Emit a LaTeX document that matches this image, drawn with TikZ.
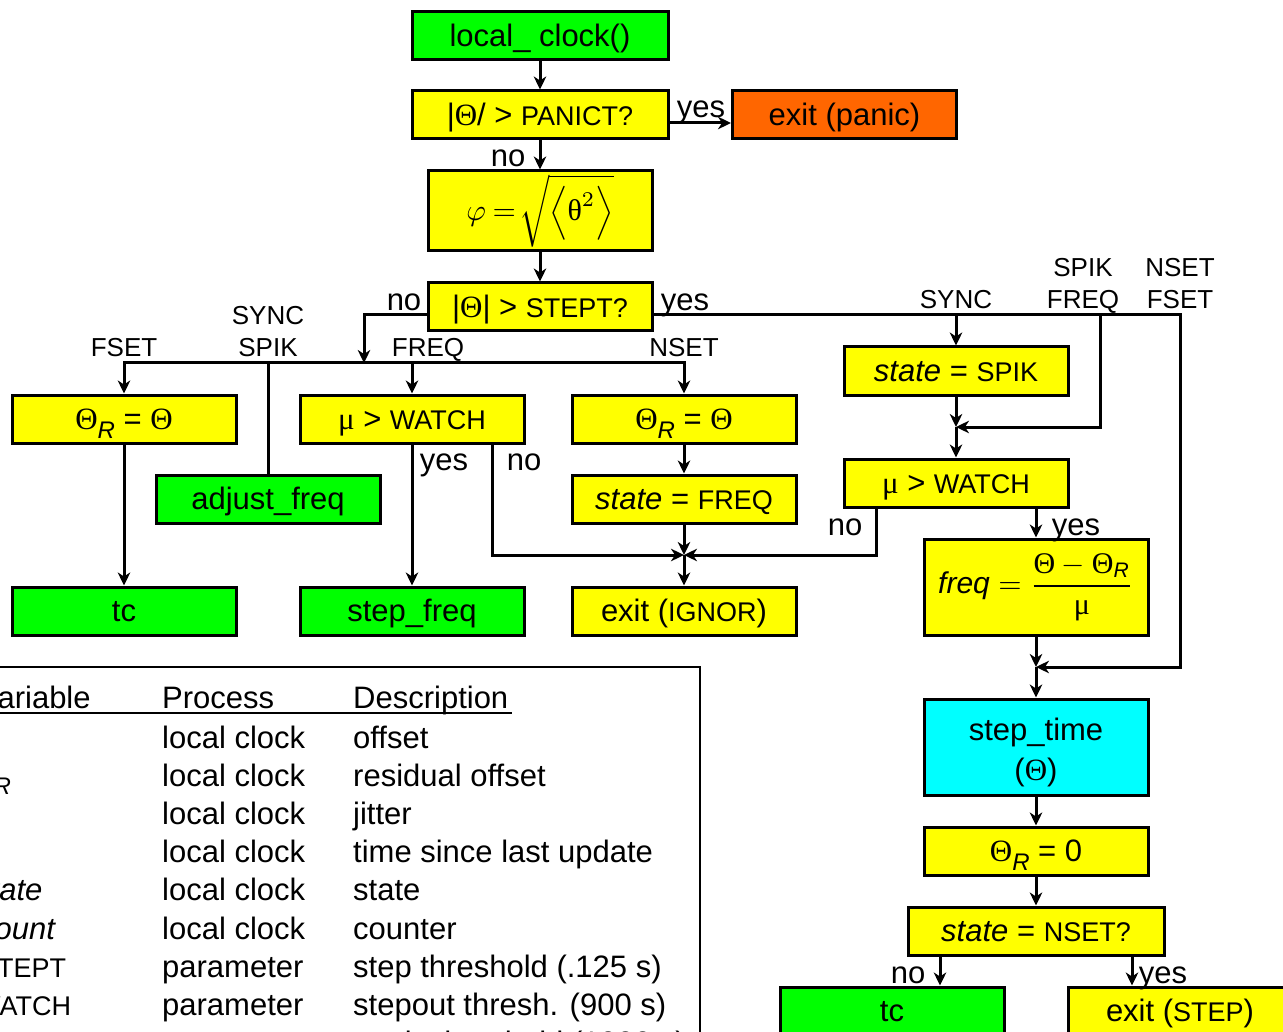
\documentclass[tikz,border=0pt]{standalone}
\usepackage{graphicx}
\usepackage{amsmath}
\usepackage{fontspec}
\setmainfont{Liberation Sans}
\newfontfamily\serifgr{Liberation Serif}
\usetikzlibrary{arrows.meta}
\definecolor{bgreen}{HTML}{00FF00}
\definecolor{byellow}{HTML}{FFFF00}
\definecolor{borange}{HTML}{FF6600}
\definecolor{bcyan}{HTML}{00FFFF}
\newcommand\fbig{\fontsize{31}{40}\selectfont}
\newcommand\fcap{\fontsize{27}{32}\selectfont}
\newcommand\flab{\fontsize{26}{32}\selectfont}
\newcommand\Thg{{\serifgr Θ}}
\newcommand\mug{{\serifgr μ}}
\newcommand\ThR{{\serifgr Θ}\raisebox{-0.28em}{\fontsize{24}{24}\selectfont\itshape R}}
\tikzset{
  boxbase/.style={draw, line width=3pt, minimum width=224pt, minimum height=48pt, inner sep=0pt, font=\fbig},
  box/.style={boxbase, text height=28pt, text depth=6.6pt},
  ln/.style={line width=3pt},
  arr/.style={line width=3pt, -{Stealth[length=13pt,width=12.5pt,inset=4pt]}},
  lab/.style={anchor=base, inner sep=0pt, font=\fbig},
  slab/.style={anchor=base, inner sep=0pt, font=\flab},
  cell/.style={anchor=base west, inner sep=0pt, font=\fbig},
  tline/.style={line width=2pt}
}
\begin{document}
\begin{tikzpicture}[x=1pt,y=-1pt]
\useasboundingbox (0,0) rectangle (1283,1032);
\clip (0,0) rectangle (1283,1032);
\fill[white] (0,0) rectangle (1283,1032);

% ---- boxes
\node[box, fill=bgreen, minimum width=256pt] (lc) at (540,35.5) {local\_ clock()};
\node[box, fill=byellow, minimum width=256pt] (pan) at (540,115) {|\Thg/ > {\fcap PANICT?}};
\node[box, fill=borange] (expan) at (844.5,115) {exit (panic)};
\node[boxbase, fill=byellow, minimum height=80pt] (phi) at (540,211) {\scalebox{3.0}{\fontsize{10}{12}\selectfont$\varphi\mskip4mu{=}\mskip2mu\sqrt{\Big\langle\text{\serifgr θ}^{2}\Big\rangle}$}};
\node[box, fill=byellow] (stept) at (540,307) {|\Thg| > {\fcap STEPT?}};
\node[box, fill=byellow] (thrl) at (124,419) {\ThR\ = \Thg};
\node[box, fill=byellow] (mul) at (412,419) {\mug\ > {\fcap WATCH}};
\node[box, fill=byellow] (thrm) at (684,419) {\ThR\ = \Thg};
\node[box, fill=bgreen] (adj) at (268,499) {adjust\_freq};
\node[box, fill=byellow] (stfreq) at (684,499) {\textit{state} = {\fcap FREQ}};
\node[box, fill=bgreen] (tcl) at (124,611) {tc};
\node[box, fill=bgreen] (stepf) at (412,611) {step\_freq};
\node[box, fill=byellow] (exign) at (684,611) {exit ({\fcap IGNOR})};
\node[box, fill=byellow] (stspik) at (956,371) {\textit{state} = {\fcap SPIK}};
\node[box, fill=byellow] (mur) at (956,483) {\mug\ > {\fcap WATCH}};
\node[boxbase, fill=byellow, minimum height=96pt] (freq) at (1036,587) {\scalebox{3.0}{\fontsize{10}{12}\selectfont$\text{\itshape freq} = \dfrac{\text{\serifgr Θ} - \text{\serifgr Θ}_{\text{\itshape R}}}{\text{\serifgr μ}}$}};
\node[boxbase, fill=bcyan, minimum height=96pt] (steptime) at (1036,747) {\raisebox{0pt}[\dimexpr\height+5pt\relax][\dimexpr\depth-5pt\relax]{\begin{tabular}{@{}c@{}}step\_time\\(\Thg)\end{tabular}}};
\node[box, fill=byellow] (thr0) at (1036,851) {\ThR\ = 0};
\node[box, fill=byellow, minimum width=256pt] (nset) at (1036,931) {\textit{state} = {\fcap NSET?}};
\node[box, fill=bgreen] (tcb) at (892,1011) {tc};
\node[box, fill=byellow] (exstep) at (1180,1011) {exit ({\fcap STEP})};

% ---- junction coordinates
\coordinate (b0) at (364,363);
\coordinate (j1) at (684,555);
\coordinate (j2) at (956,427);
\coordinate (j3) at (1036,667);
\coordinate (r1) at (1100,315);
\coordinate (r2) at (1180,315);

% ---- connectors
\draw[arr] (lc) -- (pan);
\draw[arr] ([yshift=-8pt]pan.east) -- ([yshift=-8pt]expan.west);
\draw[arr] (pan) -- (phi);
\draw[arr] (phi) -- (stept);
\draw[arr] ([yshift=-8pt]stept.west) -| (b0);
\draw[arr] (b0) -| (thrl);
\draw[arr] (b0) -| (thrm);
\draw[ln] (adj.north |- b0) -- (adj);
\draw[arr] (mul.north |- b0) -- (mul);
\draw[arr] (thrl) -- (tcl);
\draw[arr] (mul) -- (stepf);
\draw[arr] ([xshift=80pt]mul.south) |- (j1);
\draw[arr] (thrm) -- (stfreq);
\draw[arr] (stfreq) -- (j1);
\draw[arr] (j1) -- (exign);
\draw[arr] ([xshift=-80pt]mur.south) |- (j1);
\draw[arr] ([yshift=-8pt]stept.east) -- (r2) |- (j3);
\draw[arr] (stspik.north |- r2) -- (stspik);
\draw[arr] (r1) |- (j2);
\draw[arr] (stspik) -- (j2);
\draw[arr] (j2) -- (mur);
\draw[arr] (mur.south -| freq) -- (freq);
\draw[arr] (freq) -- (j3);
\draw[arr] (j3) -- (steptime);
\draw[arr] (steptime) -- (thr0);
\draw[arr] (thr0) -- (nset);
\draw[arr] ([xshift=-96pt]nset.south) -- ([xshift=-96pt]nset.south |- tcb.north);
\draw[arr] ([xshift=96pt]nset.south) -- ([xshift=96pt]nset.south |- exstep.north);

% ---- labels (base anchors)
\node[lab] (l1) at (701,118) {yes};
\node[lab] (l2) at (508,167) {no};
\node[lab] (l3) at (404,311) {no};
\node[lab] (l4) at (685,311) {yes};
\node[lab] (l5) at (444,470) {yes};
\node[lab] (l6) at (524,470) {no};
\node[lab] (l7) at (845,535) {no};
\node[lab] (l8) at (1076,535) {yes};
\node[lab] (l9) at (908,983) {no};
\node[lab] (l10) at (1163,983) {yes};
\node[slab] (s1) at (124,357) {FSET};
\node[slab] (s2) at (268,325) {SYNC};
\node[slab] (s3) at (268,357) {SPIK};
\node[slab] (s4) at (428,357) {FREQ};
\node[slab] (s5) at (684,357) {NSET};
\node[slab] (s6) at (956,309) {SYNC};
\node[slab] (s7) at (1083,277) {SPIK};
\node[slab] (s8) at (1083,309) {FREQ};
\node[slab] (s9) at (1180,277) {NSET};
\node[slab] (s10) at (1180,309) {FSET};

% ---- table
\draw[tline] (-60,667) -- (700,667) -- (700,1100);
\draw[tline] (-60,713) -- (512,713);
\node[cell] (h1) at (-21,708) {Variable};
\node[cell] (h2) at (162,708) {Process};
\node[cell] (h3) at (353,708) {Description};

\node[cell] (v1) at (-26,748) {\Thg};
\node[cell] (v2) at (-29,786.2) {\ThR};
\node[cell] (v3) at (-26,824.4) {{\serifgr φ}};
\node[cell] (v4) at (-26,862.6) {\mug};
\node[cell] (v5) at (-25,900.8) {\textit{state}};
\node[cell] (v6) at (-21,939) {\textit{count}};
\node[cell] (v7) at (-21,977.2) {\fcap STEPT};
\node[cell] (v8) at (-25,1015.4) {\fcap WATCH};
\node[cell] (v9) at (-25,1053.6) {\fcap PANICT};

\node[cell] (p1) at (162,748) {local clock};
\node[cell] (p2) at (162,786.2) {local clock};
\node[cell] (p3) at (162,824.4) {local clock};
\node[cell] (p4) at (162,862.6) {local clock};
\node[cell] (p5) at (162,900.8) {local clock};
\node[cell] (p6) at (162,939) {local clock};
\node[cell] (p7) at (162,977.2) {parameter};
\node[cell] (p8) at (162,1015.4) {parameter};
\node[cell] (p9) at (162,1053.6) {parameter};

\node[cell] (d1) at (353,748) {offset};
\node[cell] (d2) at (353,786.2) {residual offset};
\node[cell] (d3) at (353,824.4) {jitter};
\node[cell] (d4) at (353,862.6) {time since last update};
\node[cell] (d5) at (353,900.8) {state};
\node[cell] (d6) at (353,939) {counter};
\node[cell] (d7) at (353,977.2) {step threshold (.125 s)};
\node[cell] (d8) at (353,1015.4) {stepout thresh. (900 s)};
\node[cell] (d9) at (353,1053.6) {panic threshold (1000 s)};
\end{tikzpicture}
\end{document}
